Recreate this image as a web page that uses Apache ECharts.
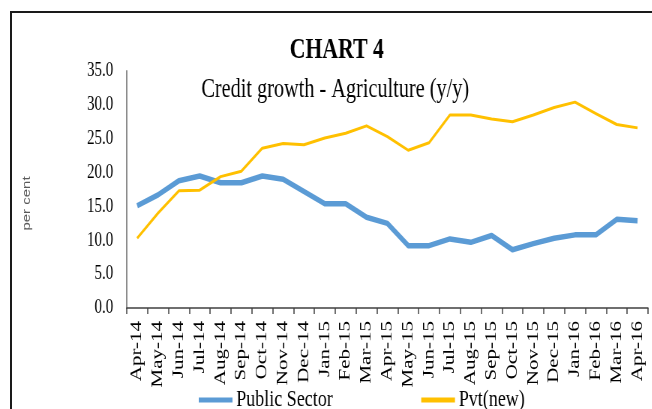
<!DOCTYPE html>
<html>
<head>
<meta charset="utf-8">
<script src="https://cdn.jsdelivr.net/npm/echarts@6/dist/echarts.min.js"></script>
<style>
  html, body { margin: 0; padding: 0; background: #fff; overflow: hidden; width: 652px; height: 409px; }
  #frame { position: absolute; left: 10px; top: 11px; width: 700px; height: 500px;
           border-left: 2px solid #1a1a1a; border-top: 2px solid #1a1a1a; }
  /* the chart is laid out wide and condensed horizontally, like the printed exhibit */
  #chart { position: absolute; left: 0; top: 0; width: 870px; height: 409px;
           transform: scaleX(0.75); transform-origin: 0 0; }
</style>
</head>
<body>
<div id="frame"></div>
<div id="chart"></div>
<script>
// Year-on-year credit growth to agriculture, per cent
const months = ['Apr-14','May-14','Jun-14','Jul-14','Aug-14','Sep-14','Oct-14','Nov-14','Dec-14',
  'Jan-15','Feb-15','Mar-15','Apr-15','May-15','Jun-15','Jul-15','Aug-15','Sep-15','Oct-15',
  'Nov-15','Dec-15','Jan-16','Feb-16','Mar-16','Apr-16'];
const publicSector = [15.1, 16.7, 18.8, 19.5, 18.5, 18.5, 19.5, 19.0, 17.2, 15.4, 15.4, 13.4, 12.5,
  9.2, 9.2, 10.2, 9.7, 10.7, 8.6, 9.5, 10.3, 10.8, 10.8, 13.1, 12.9];
const pvtNew = [10.3, 14.0, 17.3, 17.4, 19.4, 20.2, 23.6, 24.3, 24.1, 25.1, 25.8, 26.9, 25.3,
  23.3, 24.4, 28.5, 28.5, 27.9, 27.5, 28.5, 29.6, 30.4, 28.7, 27.1, 26.6];
const yTicks = { min: 0, max: 35, step: 5 };

const serif = '"Liberation Serif", "Times New Roman", serif';
const chart = echarts.init(document.getElementById('chart'), null, { renderer: 'canvas' });

chart.setOption({
  animation: false,
  graphic: [
    { type: 'text', x: 449, y: 51,
      style: { text: 'CHART 4', font: 'bold 29px ' + serif, fill: '#000', align: 'center', verticalAlign: 'middle' } },
    { type: 'text', x: 447, y: 90,
      style: { text: 'Credit growth - Agriculture (y/y)', font: '27px ' + serif, fill: '#000', align: 'center', verticalAlign: 'middle' } }
  ],
  grid: { left: 169, right: 6, top: 71, bottom: 101, containLabel: false, outerBoundsMode: 'none' },
  legend: {
    left: 260, top: 383,
    icon: 'rect', itemWidth: 45, itemHeight: 5, itemGap: 118,
    textStyle: { fontFamily: serif, fontSize: 24, color: '#000' },
    data: ['Public Sector', 'Pvt(new)']
  },
  xAxis: {
    type: 'category',
    data: months,
    boundaryGap: true,
    axisLine: { lineStyle: { color: '#404040', width: 1.5 } },
    axisTick: { show: true, length: 6, lineStyle: { color: '#404040', width: 1.5 } },
    axisLabel: { interval: 0, rotate: 90, margin: 13, fontFamily: serif, fontSize: 21, color: '#000' }
  },
  yAxis: {
    type: 'value',
    min: yTicks.min, max: yTicks.max, interval: yTicks.step,
    name: 'per cent',
    nameLocation: 'middle',
    nameRotate: 90,
    nameGap: 126,
    nameTextStyle: { fontFamily: '"Liberation Sans", Arial, sans-serif', fontSize: 15, color: '#595959', padding: [0, 28, 0, 0] },
    axisLine: { show: true, lineStyle: { color: '#8c8c8c', width: 2 } },
    axisTick: { show: false },
    splitLine: { show: false },
    axisLabel: { margin: 18, fontFamily: serif, fontSize: 20, color: '#000',
                 formatter: v => v.toFixed(1) }
  },
  series: [
    { name: 'Public Sector', type: 'line', data: publicSector, symbol: 'none',
      lineStyle: { color: '#5B9BD5', width: 5.5, join: 'round' }, itemStyle: { color: '#5B9BD5' } },
    { name: 'Pvt(new)', type: 'line', data: pvtNew, symbol: 'none',
      lineStyle: { color: '#FFC000', width: 3, join: 'round' }, itemStyle: { color: '#FFC000' } }
  ]
});
</script>
</body>
</html>
